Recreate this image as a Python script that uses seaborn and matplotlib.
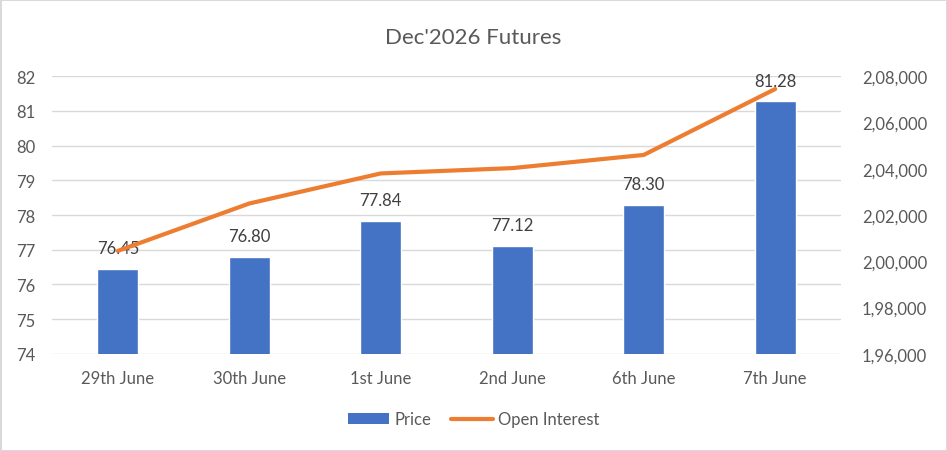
import matplotlib
matplotlib.use("Agg")
import matplotlib.pyplot as plt
import matplotlib.ticker as mticker
from matplotlib.patches import Patch
from matplotlib.lines import Line2D
import seaborn as sns
import pandas as pd

categories = ["29th June", "30th June", "1st June", "2nd June", "6th June", "7th June"]
price = [76.45, 76.80, 77.84, 77.12, 78.30, 81.28]
open_interest = [200450, 202500, 203800, 204030, 204600, 207450]

df = pd.DataFrame({"Date": categories, "Price": price, "Open Interest": open_interest})

sns.set_theme(style="white")
plt.rcParams["font.family"] = ["Lato", "DejaVu Sans"]

TEXT = "#595959"
BLUE = "#4472C4"
ORANGE = "#ED7D31"
GRID = "#D9D9D9"
FS = 12

fig = plt.figure(figsize=(9.47, 4.52), dpi=100)
fig.patch.set_edgecolor("#D9D9D9")
fig.patch.set_linewidth(2)
ax = fig.add_axes([0.055, 0.215, 0.833, 0.614])

sns.barplot(data=df, x="Date", y="Price", color=BLUE, width=0.31, ax=ax,
            saturation=1, zorder=2)
ax.set_ylim(74, 82)
ax.set_yticks(range(74, 83))
ax.grid(axis="y", color=GRID, linewidth=1, zorder=0)
ax.set_axisbelow(True)
ax.set_xlabel("")
ax.set_ylabel("")
for s in ax.spines.values():
    s.set_visible(False)
ax.tick_params(axis="y", length=0, labelsize=FS, colors=TEXT, pad=12)
ax.tick_params(axis="x", length=0, labelsize=FS, colors=TEXT, pad=12)
ax.bar_label(ax.containers[0], fmt="%.2f", padding=9, fontsize=FS, color="#404040")

ax2 = ax.twinx()
sns.lineplot(data=df, x="Date", y="Open Interest", color=ORANGE, linewidth=3,
             sort=False, ax=ax2, solid_capstyle="round")
ax2.set_ylim(196000, 208000)
ax2.set_yticks(range(196000, 208001, 2000))

def indian(v, pos):
    v = int(round(v))
    s = str(v)
    last3 = s[-3:]
    rest = s[:-3]
    parts = []
    while len(rest) > 2:
        parts.insert(0, rest[-2:])
        rest = rest[:-2]
    if rest:
        parts.insert(0, rest)
    return ",".join(parts + [last3])

ax2.yaxis.set_major_formatter(mticker.FuncFormatter(indian))
ax2.set_ylabel("")
ax2.set_xlabel("")
for s in ax2.spines.values():
    s.set_visible(False)
ax2.tick_params(axis="y", length=0, labelsize=FS, colors=TEXT, pad=15)
ax2.grid(False)
ax.set_xlim(-0.5, 5.5)

fig.text(0.5, 0.915, "Dec'2026 Futures", ha="center", va="center",
         fontsize=16, color=TEXT)

handles = [Patch(facecolor=BLUE, edgecolor="none"),
           Line2D([0], [0], color=ORANGE, linewidth=3, solid_capstyle="round")]
fig.legend(handles, ["Price", "Open Interest"], loc="center",
           bbox_to_anchor=(0.5, 0.07), ncol=2, frameon=False, fontsize=FS,
           labelcolor=TEXT, handlelength=2.5, handleheight=0.6, columnspacing=1.2,
           handletextpad=0.3)

fig.savefig("out.png", dpi=100, edgecolor=fig.get_edgecolor())
